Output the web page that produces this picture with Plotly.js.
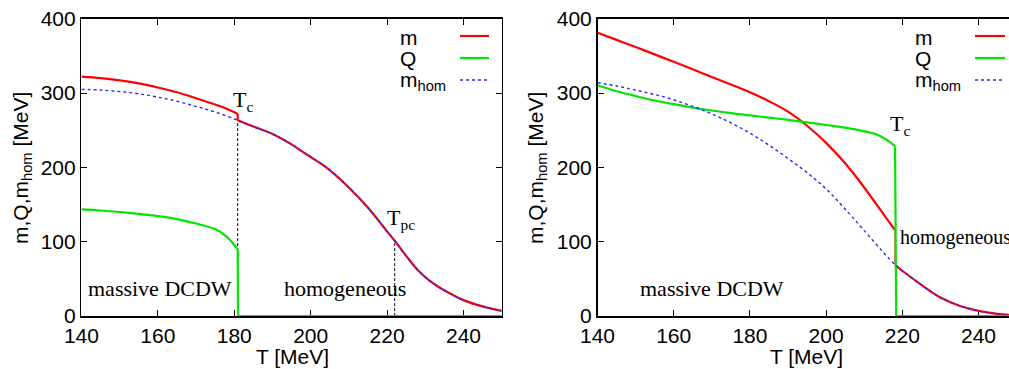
<!DOCTYPE html>
<html>
<head>
<meta charset="utf-8">
<script src="https://cdn.plot.ly/plotly-3.0.1.min.js"></script>
<style>html,body{margin:0;padding:0;background:#fff;}#chart{width:1009px;height:369px;}</style>
</head>
<body>
<div id="chart"></div>
<script>
// ---------- Left panel data ----------
const T_left_dcdw = [140,145,150,155,160,165,170,175,178,180.9];
const m_left_dcdw = [322,320,317,313,307.5,301,293,284.5,279,272];
const Q_left_dcdw = [143.5,142,140,137.5,134.5,130.5,124.5,117,107,90];
const T_left_Qzero = [181.0,250];
const Q_left_zero  = [0,0];
const T_left_hom  = [140,145,150,155,160,165,170,175,180.9,185,190,195,197.3,200,203,206,210,214.8,218,220,222.2,225,228,231,234,237,240,245,250];
const mhom_left   = [305,304,302,299,294.5,289,282,274.5,263.5,255,245,231,223,214,204,192,173,147,127,114,100,81,62,48,37.5,29,21.5,13,7];
const Tc_left = 180.9, Tpc_left = 222;
const Tc_left_top = 263.5, Tpc_left_top = 100;

// ---------- Right panel data ----------
const Tc_right = 218.1;
const T_right_m  = [140,145,150,155,160,165,170,175,180,185,190,195,200,205,210,215,218.1];
const m_right_m  = [381,371.5,362,352,342,332,321.5,311.5,301,289,275,256,233,205.5,173,137.5,115.5];
const T_right_Q  = [140,145,150,155,160,165,170,175,180,185,190,195,200,205,210,212.5,215,216.5,217.5,218.1];
const Q_right_Q  = [310.6,302.5,296,290,285,280.5,276.5,273,270,267,264,260.5,257,253.5,248.5,245.5,240,235,231,228];
const T_right_Qzero = [218.4,250];
const Q_right_zero  = [0,0];
const T_right_hom  = [140,145,150,155,160,165,170,175,180,185,190,195,200,205,210,215,218.1,220,225,230,235,240,245,250];
const mhom_right   = [314,309.5,304,298,291,282,272,260,246,230,212,193,171,144,115,86,69,61,42,25,14,7,3,1];

const xTicks = [140,160,180,200,220,240];
const yTicks = [0,100,200,300,400];
const legendNames = ['m','Q','m<sub>hom</sub>'];

function afterTc(T, v, Tc){ const t=[],y=[]; T.forEach((x,i)=>{ if(x>=Tc){t.push(x);y.push(v[i]);} }); return [t,y]; }
const [tL, yL] = afterTc(T_left_hom, mhom_left, Tc_left);
const [tR, yR] = afterTc(T_right_hom, mhom_right, Tc_right);

const RED = 'rgb(255,0,0)', GREEN = 'rgb(0,230,0)', BLUE = 'rgb(40,40,255)';
const W = 1009, H = 369;
const px = x => x / W, py = y => 1 - y / H;

function seg(x, y, ax, color, width, dash, shape){
  return {x, y, xaxis:ax[0], yaxis:ax[1], mode:'lines', showlegend:false, hoverinfo:'skip',
    line:{color, width, dash:dash||'solid', shape:shape||'linear', smoothing:1}};
}
const L = ['x','y'], R = ['x2','y2'];
const DASH = '3px,2px';
const traces = [
  seg([Tc_left,Tc_left],[0,Tc_left_top], L, '#000', 1, DASH),
  seg([Tpc_left,Tpc_left],[0,Tpc_left_top], L, '#000', 1, DASH),
  seg(T_left_dcdw, m_left_dcdw, L, RED, 2.2, null, 'spline'),
  seg([Tc_left,Tc_left],[m_left_dcdw[m_left_dcdw.length-1], yL[0]], L, RED, 2.2),
  seg(tL, yL, L, RED, 2.2, null, 'spline'),
  seg(T_left_dcdw, Q_left_dcdw, L, GREEN, 2.2, null, 'spline'),
  seg([Tc_left].concat(T_left_Qzero), [Q_left_dcdw[Q_left_dcdw.length-1]].concat(Q_left_zero), L, GREEN, 2.2),
  seg(T_left_hom, mhom_left, L, BLUE, 1.4, 'dot', 'spline'),
  seg(T_right_m, m_right_m, R, RED, 2.2, null, 'spline'),
  seg([Tc_right,Tc_right],[m_right_m[m_right_m.length-1], yR[0]], R, 'rgb(255,120,120)', 2.2),
  seg(tR, yR, R, RED, 2.2, null, 'spline'),
  seg(T_right_Q, Q_right_Q, R, GREEN, 2.2, null, 'spline'),
  seg([Tc_right].concat(T_right_Qzero), [Q_right_Q[Q_right_Q.length-1]].concat(Q_right_zero), R, GREEN, 2.2),
  seg(T_right_hom, mhom_right, R, BLUE, 1.4, 'dot', 'spline')
];

const SANS = 'Liberation Sans, Arial, sans-serif';
const SERIF = 'Liberation Serif, Times New Roman, serif';
const tickFont = {family:SANS, size:21, color:'#000'};

const axBase = {
  showgrid:false, zeroline:false, showline:true, linecolor:'#000', linewidth:1.5,
  ticks:'inside', ticklen:6, tickwidth:1, tickcolor:'#000', tickfont:tickFont, layer:'below traces'
};
const yDomain = [1-316.1/H, 1-18.7/H];

const annotations = [];
function ann(text, x, y, opts){ annotations.push(Object.assign({text, x:px(x), y:py(y), xref:'paper', yref:'paper', showarrow:false, xanchor:'center', yanchor:'middle', font:{family:SANS,size:21,color:'#000'}}, opts||{})); }
ann('m,Q,m<sub>hom</sub> [MeV]', 22, 168, {textangle:-90});
ann('m,Q,m<sub>hom</sub> [MeV]', 537, 168, {textangle:-90});
ann('T [MeV]', 292, 356);
ann('T [MeV]', 806, 356);
const legYs = [36, 58, 80];
const legColors = [RED, GREEN, BLUE];
const shapes = [];
[[398,460,489],[913,975,1005]].forEach(([tx,l0,l1])=>{
  legendNames.forEach((n,i)=>{
    ann(n, tx, legYs[i]+1, {xanchor:'left'});
    shapes.push({type:'line', xref:'paper', yref:'paper', x0:px(l0), x1:px(l1), y0:py(legYs[i]), y1:py(legYs[i]),
      line:{color:legColors[i], width: i===2?1.4:2.2, dash: i===2?'dot':'solid'}});
  });
});
const serif = {family:SERIF, size:22, color:'#000'};
ann('T<sub>c</sub>', 231, 101, {xanchor:'left', font:serif});
ann('T<sub>pc</sub>', 385, 219, {xanchor:'left', font:serif});
ann('massive DCDW', 86, 288, {xanchor:'left', font:serif});
ann('homogeneous', 282, 288, {xanchor:'left', font:serif});
ann('T<sub>c</sub>', 888, 125, {xanchor:'left', font:serif});
ann('homogeneous', 898, 237, {xanchor:'left', font:{family:SERIF, size:20, color:'#000'}});
ann('massive DCDW', 638, 288, {xanchor:'left', font:serif});

const layout = {
  width:W, height:H, margin:{l:0,r:0,t:0,b:0}, paper_bgcolor:'#fff', plot_bgcolor:'#fff', showlegend:false,
  xaxis: Object.assign({}, axBase, {domain:[81.4/W, 501.7/W], range:[140,250], tickvals:xTicks, mirror:'ticks', anchor:'y'}),
  yaxis: Object.assign({}, axBase, {domain:yDomain, range:[0,400], tickvals:yTicks, mirror:'ticks', anchor:'x'}),
  xaxis2: Object.assign({}, axBase, {domain:[597.5/W, 1], range:[140,140+(1009-597.5)/3.81], tickvals:xTicks, mirror:'ticks', anchor:'y2'}),
  yaxis2: Object.assign({}, axBase, {domain:yDomain, range:[0,400], tickvals:yTicks, mirror:false, anchor:'x2'}),
  annotations, shapes
};
Plotly.newPlot('chart', traces, layout, {staticPlot:true, displayModeBar:false});
</script>
</body>
</html>
